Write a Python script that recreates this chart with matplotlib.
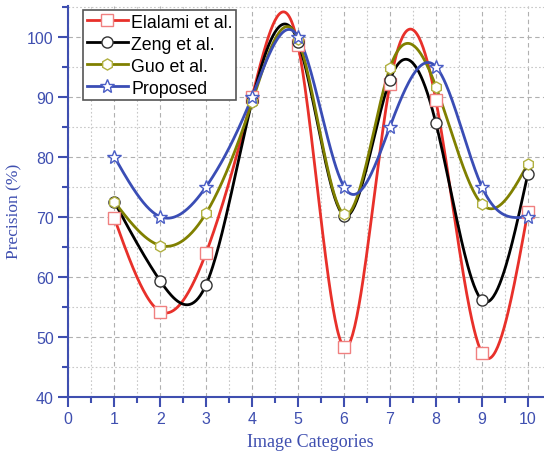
import numpy as np
import matplotlib
matplotlib.use("Agg")
import matplotlib.pyplot as plt
from matplotlib.ticker import MultipleLocator

categories = [1, 2, 3, 4, 5, 6, 7, 8, 9, 10]
elalami = [69.8, 54.2, 64.0, 90.0, 98.6, 48.3, 92.1, 89.4, 47.3, 70.8]
zeng = [72.5, 59.3, 58.7, 89.3, 99.2, 70.2, 92.8, 85.6, 56.1, 77.1]
guo = [72.5, 65.2, 70.6, 89.1, 99.6, 70.4, 94.8, 91.7, 72.1, 78.8]
proposed = [80, 70, 75, 90, 100, 75, 85, 95, 75, 70]
series_names = ["Elalami et al.", "Zeng et al.", "Guo et al.", "Proposed"]


def natural_spline(x, y, n=400):
    x = np.asarray(x, float)
    y = np.asarray(y, float)
    m = len(x)
    h = np.diff(x)
    A = np.zeros((m, m))
    b = np.zeros(m)
    A[0, 0] = 1
    A[-1, -1] = 1
    for i in range(1, m - 1):
        A[i, i - 1] = h[i - 1]
        A[i, i] = 2 * (h[i - 1] + h[i])
        A[i, i + 1] = h[i]
        b[i] = 3 * ((y[i + 1] - y[i]) / h[i] - (y[i] - y[i - 1]) / h[i - 1])
    c = np.linalg.solve(A, b)
    bb = (y[1:] - y[:-1]) / h - h * (2 * c[:-1] + c[1:]) / 3
    d = (c[1:] - c[:-1]) / (3 * h)
    xs = np.linspace(x[0], x[-1], n)
    idx = np.clip(np.searchsorted(x, xs) - 1, 0, m - 2)
    dx = xs - x[idx]
    ys = y[idx] + bb[idx] * dx + c[idx] * dx ** 2 + d[idx] * dx ** 3
    return xs, ys


W, H = 544, 456
fig = plt.figure(figsize=(W / 100, H / 100), dpi=100)
ax = fig.add_axes([68.3 / W, (H - 397.7) / H, (W - 68.3) / W, (397.7 - 7) / H])

axis_blue = "#3F4FB0"
styles = [
    dict(color="#E8302A", marker="s", mec="#F08080"),
    dict(color="#000000", marker="o", mec="#333333"),
    dict(color="#808000", marker="h", mec="#B0B040"),
    dict(color="#3A4DB5", marker="*", mec="#4A5DC5"),
]
data = [elalami, zeng, guo, proposed]

for name, vals, st in zip(series_names, data, styles):
    xs, ys = natural_spline(categories, vals)
    ax.plot(xs, ys, color=st["color"], lw=2, zorder=3)
    ax.plot(categories, vals, ls="none", marker=st["marker"], ms=8 if st["marker"] != "*" else 10,
            mfc="white", mec=st["mec"], mew=1.0, zorder=4)
    ax.plot([], [], color=st["color"], lw=2, marker=st["marker"],
            ms=8 if st["marker"] != "*" else 10, mfc="white", mec=st["mec"], mew=1.0, label=name)

ax.set_xlim(0, (W - 68.3) / 45.95)
ax.set_ylim(40, 40 + 390.7 / 6.0)
ax.xaxis.set_major_locator(MultipleLocator(1))
ax.xaxis.set_minor_locator(MultipleLocator(0.5))
ax.yaxis.set_major_locator(MultipleLocator(10))
ax.yaxis.set_minor_locator(MultipleLocator(5))
ax.set_xticks(range(0, 11))

ax.grid(True, which="major", color="#B0B0B0", ls=(0, (4, 3)), lw=0.8, zorder=0)
ax.grid(True, which="minor", color="#C8C8C8", ls=(0, (1.5, 2)), lw=0.8, zorder=0)
ax.set_axisbelow(True)

for s in ["top", "right"]:
    ax.spines[s].set_visible(False)
for s in ["left", "bottom"]:
    ax.spines[s].set_color(axis_blue)
    ax.spines[s].set_linewidth(1.5)

ax.tick_params(which="major", direction="out", length=7, width=1.5, color=axis_blue,
               labelcolor=axis_blue, labelsize=11.5)
ax.tick_params(which="minor", direction="out", length=4, width=1.5, color=axis_blue)
for lab in ax.get_xticklabels() + ax.get_yticklabels():
    lab.set_fontfamily("Liberation Sans")

ax_w_px = W - 68.3
ax_h_px = 397.7 - 7
ax.set_xlabel("Image Categories", fontfamily="Liberation Serif", fontsize=13, color=axis_blue)
ax.xaxis.set_label_coords((310 - 68.3) / ax_w_px, (397.7 - 443) / ax_h_px)
ax.set_ylabel("Precision (%)", fontfamily="Liberation Serif", fontsize=12.5, color=axis_blue,
              va="center", ha="center")
ax.yaxis.set_label_coords((14.5 - 68.3) / ax_w_px, (397.7 - 211) / ax_h_px)
ax.xaxis.label.set_va("center")

leg = ax.legend(loc="upper left", bbox_to_anchor=(0.028, 0.994), prop={"family": "Liberation Sans", "size": 12.8},
                frameon=True, fancybox=False, edgecolor="#555555", framealpha=1,
                handlelength=2.3, handletextpad=0.2, borderpad=0.2, labelspacing=0.28, borderaxespad=0.1)
leg.get_frame().set_linewidth(1.2)

fig.savefig("out.png", dpi=100)
